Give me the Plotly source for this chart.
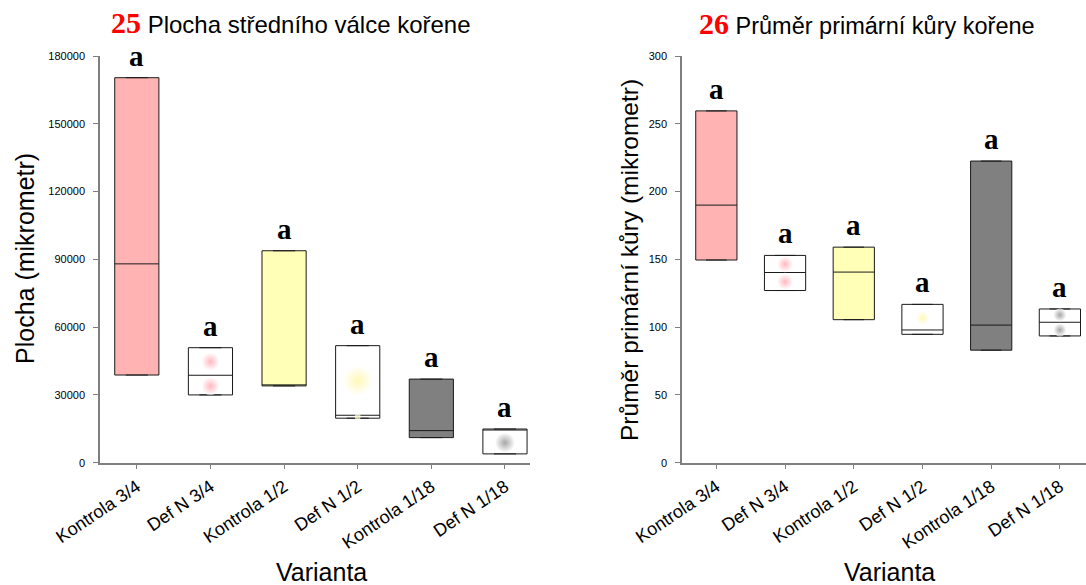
import plotly.graph_objects as go

# Variants (x categories) shared by both panels
varianty = ["Kontrola 3/4", "Def N 3/4", "Kontrola 1/2", "Def N 1/2", "Kontrola 1/18", "Def N 1/18"]
barvy = ["#FFB3B3", "#FFFFFF", "#FFFFB8", "#FFFFFF", "#808080", "#FFFFFF"]
skupiny = ["a", "a", "a", "a", "a", "a"]

# Panel 25 - Plocha středního válce kořene (box statistics)
plocha_min = [38800, 30000, 34000, 19700, 11100, 3900]
plocha_q1 = [38800, 30000, 34000, 19700, 11100, 3900]
plocha_median = [88000, 38700, 34300, 21000, 14200, 14600]
plocha_q3 = [170400, 50900, 93800, 51800, 37000, 14900]
plocha_max = [170400, 50900, 93800, 51800, 37000, 14900]

# Panel 26 - Průměr primární kůry kořene (box statistics)
prumer_min = [149.5, 127.0, 105.5, 94.7, 83.0, 93.5]
prumer_q1 = [149.5, 127.0, 105.5, 94.7, 83.0, 93.5]
prumer_median = [190.0, 140.3, 140.6, 97.9, 101.5, 103.6]
prumer_q3 = [259.5, 152.9, 159.0, 116.8, 222.5, 113.4]
prumer_max = [259.5, 152.9, 159.0, 116.8, 222.5, 113.4]

# Individual measurements of the Def N variants (soft dots)
body_plocha_x = [1, 1, 3, 3, 5]
body_plocha_y = [44700, 33900, 36300, 20300, 8850]
body_plocha_barva = ["#FF9AA6", "#FF9AA6", "#FFF59A", "#FFF59A", "#808080"]
body_plocha_velikost = [18, 18, 30, 6, 20]

body_prumer_x = [1, 1, 3, 5, 5]
body_prumer_y = [146.4, 133.5, 106.7, 109.0, 97.9]
body_prumer_barva = ["#FF9AA6", "#FF9AA6", "#FFF59A", "#808080", "#808080"]
body_prumer_velikost = [16, 16, 14, 13, 13]

SANS = "Liberation Sans, Arial, sans-serif"
SERIF = "Liberation Serif, Times New Roman, serif"
OSA = "#7F7F7F"
W, H = 1086, 585

fig = go.Figure()


def pridej_boxy(mins, q1s, meds, q3s, maxs, xa, ya):
    for i, name in enumerate(varianty):
        fig.add_trace(go.Box(
            x=[i], q1=[q1s[i]], median=[meds[i]], q3=[q3s[i]],
            lowerfence=[mins[i]], upperfence=[maxs[i]],
            width=0.6, whiskerwidth=0.5,
            fillcolor=barvy[i],
            line=dict(color="#1A1A1A", width=1),
            name=name, boxpoints=False, hoverinfo="skip",
            xaxis=xa, yaxis=ya,
        ))


def pridej_body(xs, ys, cols, sizes, xa, ya):
    # radial gradient: solid colour in the centre fading to white at the edge
    fig.add_trace(go.Scatter(
        x=xs, y=ys, mode="markers",
        marker=dict(color="#FFFFFF", size=sizes, line=dict(width=0),
                    gradient=dict(type="radial", color=cols)),
        hoverinfo="skip", xaxis=xa, yaxis=ya,
    ))


pridej_boxy(plocha_min, plocha_q1, plocha_median, plocha_q3, plocha_max, "x", "y")
pridej_body(body_plocha_x, body_plocha_y, body_plocha_barva, body_plocha_velikost, "x", "y")
pridej_boxy(prumer_min, prumer_q1, prumer_median, prumer_q3, prumer_max, "x2", "y2")
pridej_body(body_prumer_x, body_prumer_y, body_prumer_barva, body_prumer_velikost, "x2", "y2")

pismeno = dict(family=SERIF, size=29, color="black", weight="bold")
anotace = []
# significance letters above each box
for i in range(len(varianty)):
    anotace.append(dict(x=i, y=plocha_max[i], xref="x", yref="y", text=skupiny[i],
                        showarrow=False, yanchor="bottom", yshift=4, font=pismeno))
    anotace.append(dict(x=i, y=prumer_max[i], xref="x2", yref="y2", text=skupiny[i],
                        showarrow=False, yanchor="bottom", yshift=4, font=pismeno))

# panel titles
cislo = "<span style='font-family:Liberation Serif, Times New Roman, serif;color:#FF0000;font-size:30px'><b>{}</b></span>"
anotace.append(dict(x=291 / W, y=1 - 23 / H, xref="paper", yref="paper",
                    text=cislo.format("25") + " Plocha středního válce kořene",
                    showarrow=False, xanchor="center", yanchor="middle",
                    font=dict(family=SANS, size=24, color="black")))
anotace.append(dict(x=867 / W, y=1 - 24 / H, xref="paper", yref="paper",
                    text=cislo.format("26") + " Průměr primární kůry kořene",
                    showarrow=False, xanchor="center", yanchor="middle",
                    font=dict(family=SANS, size=23.5, color="black")))

# axis titles
osa_font = dict(family=SANS, size=25, color="black")
anotace.append(dict(x=25 / W, y=1 - 259 / H, xref="paper", yref="paper",
                    text="Plocha (mikrometr)", textangle=-90, showarrow=False,
                    xanchor="center", yanchor="middle", font=osa_font))
anotace.append(dict(x=629 / W, y=1 - 260 / H, xref="paper", yref="paper",
                    text="Průměr primární kůry (mikrometr)", textangle=-90, showarrow=False,
                    xanchor="center", yanchor="middle", font=dict(family=SANS, size=24.5, color="black")))
anotace.append(dict(x=321 / W, y=1 - 572 / H, xref="paper", yref="paper",
                    text="Varianta", showarrow=False, xanchor="center", yanchor="middle",
                    font=osa_font))
anotace.append(dict(x=889 / W, y=1 - 572 / H, xref="paper", yref="paper",
                    text="Varianta", showarrow=False, xanchor="center", yanchor="middle",
                    font=osa_font))

spolecna_x = dict(tickvals=list(range(len(varianty))), ticktext=varianty, tickangle=-34,
                  ticks="outside", ticklen=5, tickcolor=OSA, showline=True, linecolor=OSA,
                  linewidth=1.5, showgrid=False, zeroline=False, automargin=False,
                  tickfont=dict(family=SANS, size=18, color="black"))
spolecna_y = dict(ticks="outside", ticklen=5, tickcolor=OSA, showline=True, linecolor=OSA,
                  linewidth=1.5, showgrid=False, zeroline=False, tickformat="d",
                  automargin=False, ticklabelstandoff=6,
                  tickfont=dict(family=SANS, size=11, color="black"))

y_dom = [1 - 462.7 / H, 1 - 56 / H]

fig.update_layout(
    width=W, height=H,
    margin=dict(l=0, r=0, t=0, b=0, autoexpand=False),
    paper_bgcolor="white", plot_bgcolor="white",
    showlegend=False,
    xaxis=dict(domain=[100 / W, 530 / W], range=[-0.5, 5.34], anchor="y", **spolecna_x),
    yaxis=dict(domain=y_dom, range=[0, 180000], dtick=30000, anchor="x", **spolecna_y),
    xaxis2=dict(domain=[682 / W, 1.0], range=[-0.5, 5.38], anchor="y2", **spolecna_x),
    yaxis2=dict(domain=y_dom, range=[0, 300], dtick=50, anchor="x2", **spolecna_y),
    annotations=anotace,
)

fig.write_html("out.html")
